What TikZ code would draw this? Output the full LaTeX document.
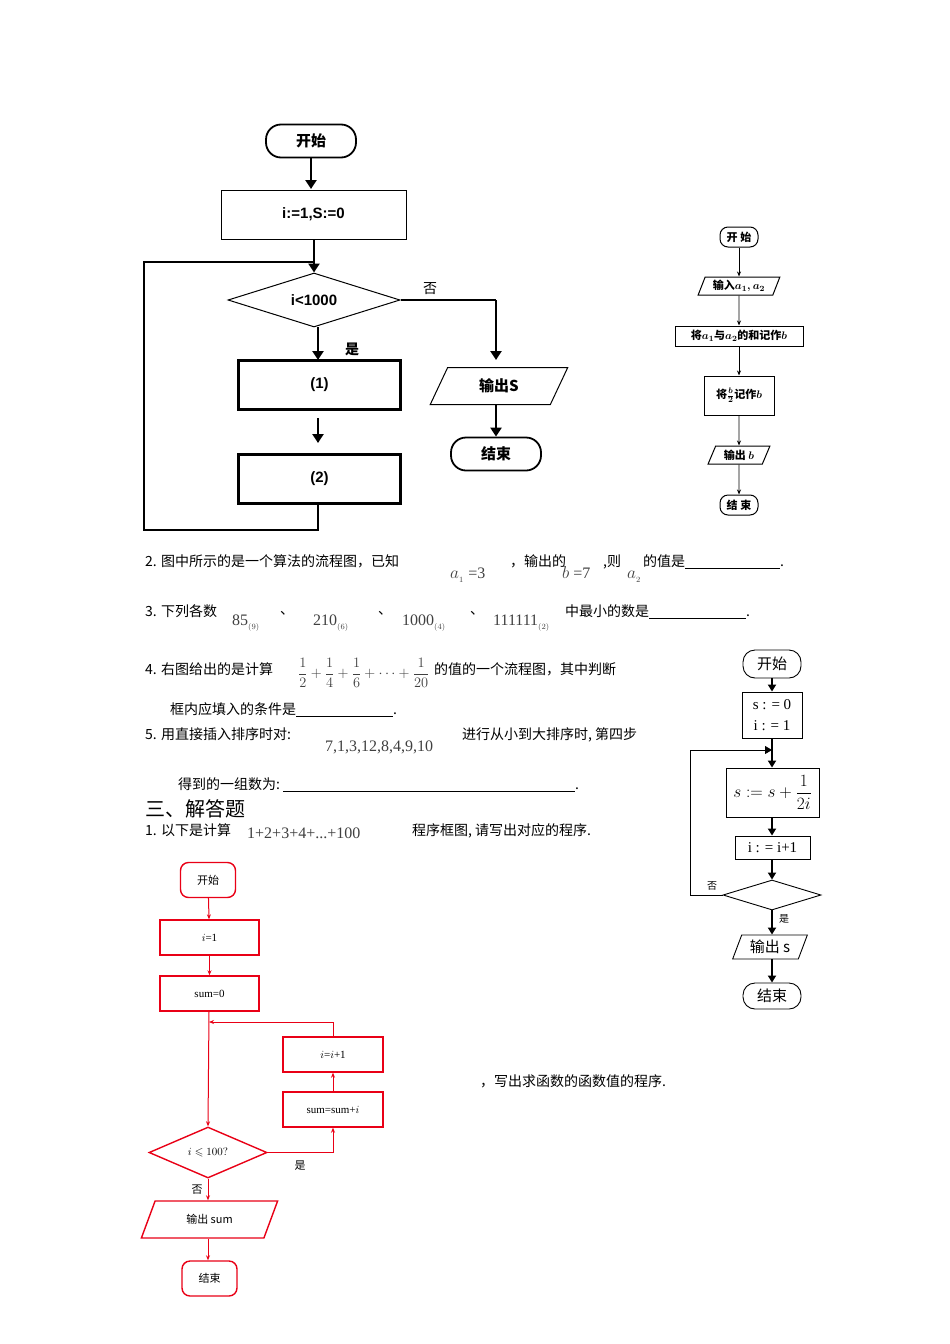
\documentclass[tikz,border=0pt]{standalone}
\usepackage{amsmath,amssymb}
\usepackage{fontspec}
\setmainfont{Liberation Serif}
\newfontfamily\cjk{Noto Sans CJK SC}
\newfontfamily\hei{Liberation Sans}
\usetikzlibrary{arrows.meta,shapes.geometric}
\begin{document}
\begin{tikzpicture}[x=1pt,y=-1pt,
  A/.style={line width=2.6pt,-{Triangle[length=9pt,width=11pt]}},
  L/.style={line width=2.6pt},
  tbox/.style={draw,line width=1pt,minimum width=185pt,minimum height=49pt,font=\hei\bfseries\fontsize{15}{18}\selectfont},
  bbox/.style={draw,line width=2.6pt,minimum width=162pt,minimum height=49pt,font=\hei\bfseries\fontsize{15}{18}\selectfont},
  term/.style={draw,line width=1.8pt,rounded corners=15pt,minimum width=90pt,minimum height=33pt,font=\cjk\bfseries\fontsize{15}{18}\selectfont},
  para/.style={draw,shape=trapezium,trapezium left angle=65,trapezium right angle=115,trapezium stretches=true,inner sep=0pt},
  dia/.style={draw,shape=diamond,aspect=3.2,inner sep=0pt},
  sA/.style={line width=0.8pt,-{Stealth[length=5pt,width=4pt]}},
  sbox/.style={draw,line width=1pt,font=\cjk\bfseries\fontsize{11}{13}\selectfont,inner sep=0pt},
  mA/.style={line width=1.8pt,-{Triangle[length=7pt,width=8pt]}},
  mbox/.style={draw,line width=0.9pt,inner sep=0pt,font=\fontsize{15}{17}\selectfont},
  mcj/.style={font=\cjk\fontsize{15}{17}\selectfont},
  rd/.style={draw=red!65!purple,line width=1.4pt},
  rA/.style={draw=red!65!purple,line width=1pt,-{Stealth[length=5pt,width=4pt]}},
  rt/.style={font=\fontsize{11}{13}\selectfont},
  tx/.style={anchor=base west,inner sep=0pt,font=\cjk\fontsize{14}{16}\selectfont},
  mt/.style={anchor=base west,inner sep=0pt,font=\fontsize{16}{18}\selectfont,text=black!75}
]
\useasboundingbox[fill=white] (0,0) rectangle (950,1344);

% ---------- top-left flowchart ----------
\node[term] (s1) at (311,141) {开始};
\node[tbox] (init) at (313.5,214.5) {i:=1,S:=0};
\node[dia,line width=1pt,minimum width=172pt,minimum height=54pt,font=\hei\bfseries\fontsize{15}{18}\selectfont] (d1) at (314,300) {i<1000};
\node[bbox] (b1) at (319.5,385) {(1)};
\node[bbox] (b2) at (319.5,479) {(2)};
\node[para,line width=1pt,minimum width=138pt,minimum height=37pt,font=\cjk\bfseries\fontsize{15}{18}\selectfont] (out1) at (499,386) {输出S};
\node[term] (e1) at (496,454) {结束};
\coordinate (m1) at (314,262);
\draw[A] (311,158) -- (311,189);
\draw[L] (314,240) -- (m1);
\draw[A] (m1) -- (d1.north);
\draw[L] (318,504) -- (318,530) -- (144,530) -- (144,262) -- (m1);
\draw[A] (318,327) -- (318,360);
\draw[A] (318,418) -- (318,443);
\draw[L] (d1.east) -- (496,300);
\draw[A] (496,300) -- (496,360);
\draw[A] (496,404) -- (e1.north);
\node[font=\cjk\fontsize{14}{16}\selectfont] at (430,289) {否};
\node[font=\cjk\bfseries\fontsize{14}{16}\selectfont] at (352,349) {是};

% ---------- right small scanned flowchart ----------
\node[sbox,rounded corners=8pt,minimum width=38pt,minimum height=20pt] (r1) at (739,237) {开 始};
\node[sbox,para,line width=1pt,minimum width=82pt,minimum height=18pt] (r2) at (739,286) {输入$\boldsymbol{a_1,a_2}$};
\node[sbox,minimum width=128pt,minimum height=20pt] (r3) at (739,336) {将$\boldsymbol{a_1}$与$\boldsymbol{a_2}$的和记作$\boldsymbol{b}$};
\node[sbox,minimum width=70pt,minimum height=39pt] (r4) at (739,395.5) {将$\boldsymbol{\frac{b}{2}}$记作$\boldsymbol{b}$};
\node[sbox,para,line width=1pt,minimum width=62pt,minimum height=18pt] (r5) at (739,455) {输出 $\boldsymbol{b}$};
\node[sbox,rounded corners=8pt,minimum width=38pt,minimum height=20pt] (r6) at (739,505) {结 束};
\foreach \a/\b in {r1/r2,r2/r3,r3/r4,r4/r5,r5/r6} \draw[sA] (\a) -- (\b);

% ---------- text lines ----------
\node[tx] (q2) at (145,566) {2. 图中所示的是一个算法的流程图，已知};
\node[mt] (q2a) at (450,578) {$a_{_1}$ =3};
\node[tx] (q2b) at (510,566) {，输出的};
\node[mt] (q2c) at (562,578) {$b$ =7};
\node[tx] (q2d) at (603,566) {,则};
\node[mt] (q2e) at (627,578) {$a_{_2}$};
\node[tx] (q2f) at (643,566) {的值是\underline{\hspace{95pt}}.};

\node[tx] (q3) at (145,616) {3. 下列各数};
\node[mt] at (232,625) {85$_{_{(9)}}$};
\node[tx] at (280,614) {、};
\node[mt] at (313,625) {210$_{_{(6)}}$};
\node[tx] at (378,614) {、};
\node[mt] at (402,625) {1000$_{_{(4)}}$};
\node[tx] at (470,614) {、};
\node[mt] at (493,625) {111111$_{_{(2)}}$};
\node[tx] at (565,616) {中最小的数是\underline{\hspace{97pt}}.};

\node[tx] (q4) at (145,674) {4. 右图给出的是计算};
\node[anchor=west,inner sep=0pt,font=\fontsize{14}{16}\selectfont,text=black!75] at (298,673) {$\dfrac{1}{2}+\dfrac{1}{4}+\dfrac{1}{6}+\cdots+\dfrac{1}{20}$};
\node[tx] at (434,674) {的值的一个流程图，其中判断};
\node[tx] at (170,714) {框内应填入的条件是\underline{\hspace{97pt}}.};
\node[tx] at (145,739) {5. 用直接插入排序时对:};
\node[mt] at (325,751) {7,1,3,12,8,4,9,10};
\node[tx] at (462,739) {进行从小到大排序时, 第四步};
\node[tx] at (178,789) {得到的一组数为:\ \underline{\hspace{292pt}}.};
\node[tx,font=\cjk\fontsize{20}{22}\selectfont] at (145,816) {三、解答题};
\node[tx] at (145,835) {1. 以下是计算};
\node[mt] at (247,838) {1+2+3+4+...+100};
\node[tx] at (412,835) {程序框图, 请写出对应的程序.};
\node[tx] at (480,1086) {，写出求函数的函数值的程序.};

% ---------- right middle flowchart ----------
\node[mbox,mcj,rounded corners=12pt,minimum width=58pt,minimum height=28pt] (m0) at (772,664) {开始};
\node[mbox,minimum width=60pt,minimum height=46pt,align=center] (m2) at (772,715) {s : = 0\\[4pt]i : = 1};
\node[mbox,minimum width=93pt,minimum height=49pt,font=\fontsize{17}{19}\selectfont] (m3) at (772.5,792.5) {$s := s+\dfrac{1}{2i}$};
\node[mbox,minimum width=75pt,minimum height=23pt] (m4) at (772.5,847.5) {i : = i+1};
\node[dia,line width=0.9pt,minimum width=98pt,minimum height=30pt] (m5) at (772,895) {};
\node[mbox,mcj,para,minimum width=75pt,minimum height=24pt] (m6) at (770,947) {输出 s};
\node[mbox,mcj,rounded corners=12pt,minimum width=58pt,minimum height=26pt] (m7) at (772,996) {结束};
\coordinate (mj) at (772,750);
\draw[mA] (m0) -- (m2);
\draw[line width=1.8pt] (m2.south -| mj) -- (mj);
\draw[mA] (mj) -- (m3.north -| mj);
\draw[mA] (m3.south -| mj) -- (m4.north -| mj);
\draw[mA] (m4.south -| mj) -- (m5.north);
\draw[mA] (m5.south) -- (m6.north -| mj);
\draw[mA] (m6.south -| mj) -- (m7.north);
\draw[line width=0.9pt] (m5.west) -- (690,895) -- (690,750) -- (750,750);
\draw[mA,line width=0.9pt] (740,750) -- (mj);
\node[font=\cjk\fontsize{10}{12}\selectfont] at (712,886) {否};
\node[font=\cjk\fontsize{10}{12}\selectfont] at (784,919) {是};

% ---------- red flowchart ----------
\node[rd,rounded corners=8pt,minimum width=55pt,minimum height=35pt,font=\cjk\fontsize{11}{13}\selectfont] (p0) at (208,880) {开始};
\node[rd,minimum width=99pt,minimum height=35pt,rt] (p1) at (209.5,937.5) {$i$=1};
\node[rd,minimum width=99pt,minimum height=35pt,rt] (p2) at (209.5,993.5) {sum=0};
\node[rd,minimum width=100pt,minimum height=35pt,rt] (p3) at (333,1054.5) {$i$=$i$+1};
\node[rd,minimum width=100pt,minimum height=35pt,rt] (p4) at (333,1109.5) {sum=sum+$i$};
\node[rd,dia,aspect=2.3,minimum width=118pt,minimum height=51pt,rt] (p5) at (208,1152.5) {$i\leqslant100?$};
\node[rd,para,trapezium left angle=60,trapezium right angle=120,minimum width=137pt,minimum height=37pt,font=\cjk\fontsize{11}{13}\selectfont] (p6) at (209.5,1219.5) {输出 sum};
\node[rd,rounded corners=8pt,minimum width=55pt,minimum height=35pt,font=\cjk\fontsize{11}{13}\selectfont] (p7) at (209.5,1278.5) {结束};
\coordinate (pj) at (209,1022);
\draw[rA] (p0) -- (p1);
\draw[rA] (p1) -- (p2);
\draw[rA] (p2.south -| pj) -- (p5.north);
\draw[rA] (p5.south) -- (p6.north -| p5.south);
\draw[rA] (p6.south -| p5.south) -- (p7.north -| p5.south);
\draw[rA] (p5.east) -- (333,1152.5) -- (p4.south);
\draw[rA] (p4) -- (p3);
\draw[rA] (p3.north) -- (333,1022) -- (pj);
\node[font=\cjk\fontsize{11}{13}\selectfont] at (300,1166) {是};
\node[font=\cjk\fontsize{11}{13}\selectfont] at (197,1190) {否};
\end{tikzpicture}
\end{document}
